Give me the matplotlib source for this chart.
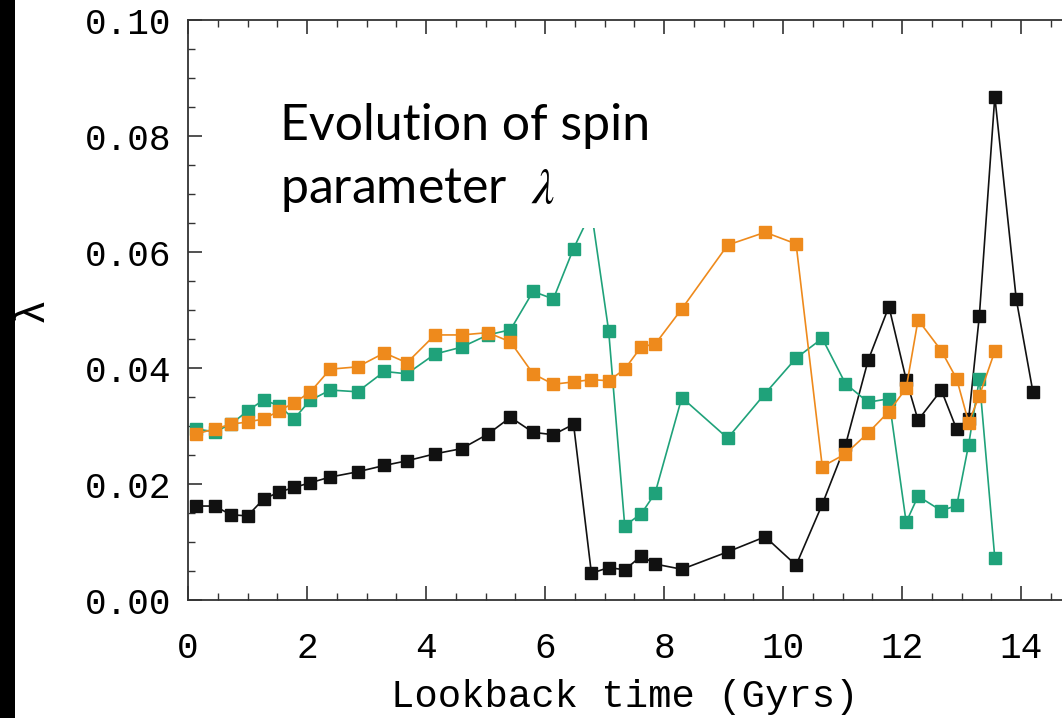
import matplotlib
matplotlib.use("Agg")
import matplotlib.pyplot as plt
from matplotlib.patches import Rectangle
from matplotlib.ticker import MultipleLocator

# lookback time of the snapshots (Gyrs)
t = [0.13, 0.45, 0.72, 1.0, 1.27, 1.53, 1.78, 2.05, 2.39, 2.85,
     3.3, 3.68, 4.15, 4.6, 5.04, 5.42, 5.8, 6.14, 6.48, 6.78,
     7.07, 7.34, 7.62, 7.85, 8.3, 9.07, 9.7, 10.22, 10.66, 11.05,
     11.43, 11.78, 12.07, 12.27, 12.66, 12.92, 13.12, 13.3, 13.56, 13.92,
     14.2]

lam_black = [0.0162, 0.0162, 0.0147, 0.0145, 0.0174, 0.0186, 0.0194, 0.0202, 0.0212, 0.0221,
             0.0232, 0.0240, 0.0252, 0.0261, 0.0286, 0.0315, 0.0289, 0.0285, 0.0303, 0.0046,
             0.0056, 0.0052, 0.0076, 0.0062, 0.0053, 0.0083, 0.0109, 0.0060, 0.0165, 0.0267,
             0.0413, 0.0506, 0.0380, 0.0310, 0.0362, 0.0294, 0.0312, 0.0490, 0.0868, 0.0519,
             0.0359]

lam_orange = [0.0286, 0.0295, 0.0303, 0.0307, 0.0312, 0.0326, 0.0340, 0.0358, 0.0398, 0.0402,
              0.0426, 0.0409, 0.0457, 0.0457, 0.0461, 0.0445, 0.0390, 0.0372, 0.0376, 0.0380,
              0.0378, 0.0398, 0.0437, 0.0441, 0.0502, 0.0612, 0.0634, 0.0614, 0.0230, 0.0252,
              0.0288, 0.0325, 0.0365, 0.0483, 0.0430, 0.0381, 0.0306, 0.0352, 0.0429]

lam_green = [0.0295, 0.0290, 0.0303, 0.0326, 0.0345, 0.0335, 0.0312, 0.0344, 0.0362, 0.0359,
             0.0394, 0.0390, 0.0424, 0.0436, 0.0457, 0.0466, 0.0532, 0.0519, 0.0606, 0.0670,
             0.0464, 0.0128, 0.0149, 0.0184, 0.0349, 0.0279, 0.0356, 0.0417, 0.0451, 0.0373,
             0.0341, 0.0347, 0.0134, 0.0179, 0.0154, 0.0163, 0.0268, 0.0381, 0.0072]

plt.rcParams['mathtext.fontset'] = 'stix'
tickfont = 'Liberation Mono'

fig = plt.figure(figsize=(10.62, 7.18), dpi=100)
ax = fig.add_axes([188/1062, 118/718, 1 - 188/1062, 580/718])

ms = 9
ax.plot(t, lam_black, '-', color='#111111', lw=1.2, marker='s', ms=ms, zorder=2)
ax.plot(t[:len(lam_green)], lam_green, '-', color='#1fa27a', lw=1.2, marker='s', ms=ms, zorder=2.1)
ax.plot(t[:len(lam_orange)], lam_orange, '-', color='#ee8a1c', lw=1.2, marker='s', ms=ms, zorder=2.2)

ax.set_xlim(0, (1062-188)/59.5)
ax.set_ylim(0, 0.10)
ax.xaxis.set_minor_locator(MultipleLocator(0.5))
ax.yaxis.set_minor_locator(MultipleLocator(0.005))
ax.set_yticks([0, 0.02, 0.04, 0.06, 0.08, 0.10])
ax.set_yticklabels(['0.00', '0.02', '0.04', '0.06', '0.08', '0.10'])
ax.set_xticks([0, 2, 4, 6, 8, 10, 12, 14])
ax.set_xticklabels(['0', '2', '4', '6', '8', '10', '12', '14'])

ax.tick_params(which='both', direction='in', top=True, right=False, color='#333333')
ax.tick_params(which='major', length=10, width=1.2)
ax.tick_params(which='minor', length=5, width=1.0)
ax.tick_params(axis='x', which='major', pad=22)
ax.tick_params(axis='y', which='major', pad=12)
for lab in ax.get_xticklabels() + ax.get_yticklabels():
    lab.set_fontfamily(tickfont)
    lab.set_fontsize(26)
for s in ['left', 'bottom', 'top']:
    ax.spines[s].set_color('#333333')
    ax.spines[s].set_linewidth(1.3)
ax.spines['right'].set_visible(False)

ax.set_xlabel('Lookback time (Gyrs)', family=tickfont, fontsize=28, labelpad=10)
ax.set_ylabel('λ', family=tickfont, fontsize=30, rotation=90)
ax.yaxis.set_label_coords(-0.156, 0.5)

# white box behind the slide annotation
ax.add_patch(Rectangle((0.0995, 0.641), 0.43, 0.23, transform=ax.transAxes,
                       facecolor='white', edgecolor='none', zorder=4))
fig.text(280/1062, 1 - 140/718, 'Evolution of spin', family='Lato', fontsize=36,
         va='baseline', ha='left', zorder=5)
fig.text(280/1062, 1 - 203/718, r'parameter  $\lambda$', family='Lato', fontsize=36,
         va='baseline', ha='left', zorder=5)

# dark slide edge on the left
fig.patches.append(Rectangle((0, 0), 15/1062, 1, transform=fig.transFigure,
                             facecolor='black', edgecolor='none', zorder=10))

fig.savefig('out.png', dpi=100)
